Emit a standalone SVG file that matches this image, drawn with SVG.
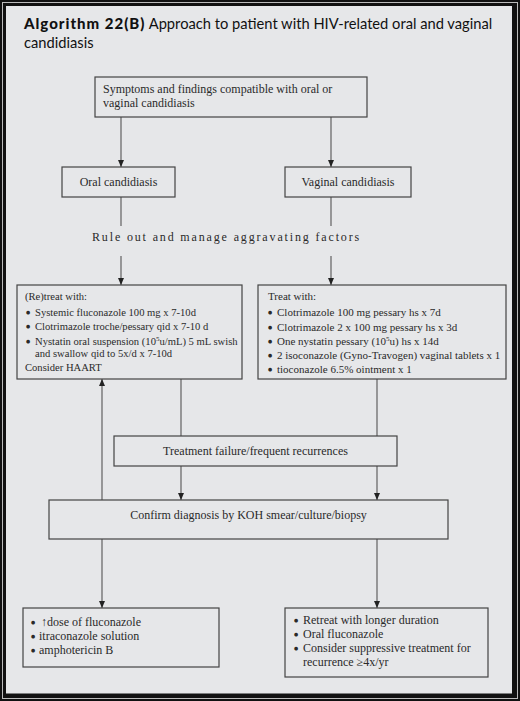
<svg xmlns="http://www.w3.org/2000/svg" width="520" height="701" viewBox="0 0 520 701">
<defs>
<marker id="ah" markerUnits="userSpaceOnUse" markerWidth="7" markerHeight="6" refX="7" refY="3" orient="auto" viewBox="0 0 7 6">
<path d="M0,0 L7,3 L0,6 Z" fill="#222"/>
</marker>
</defs>
<style>
.box{fill:#e6e7e9;stroke:#444;stroke-width:1.2}
.c{stroke:#555;stroke-width:1.1;fill:none}
text{font-family:"Liberation Serif","Times New Roman",serif;fill:#2a2a2a}
.t12{font-size:12px}
.t11{font-size:11px}
.t10{font-size:10.6px}
.b{font-size:8.5px}
.ttl{font-family:Lato,"Liberation Sans",sans-serif;font-size:14.7px;fill:#111}
</style>
<rect x="0" y="0" width="520" height="701" fill="#111"/>
<rect x="2.5" y="2.5" width="515" height="696" fill="none" stroke="#bbb" stroke-width="1"/>
<rect x="6" y="6" width="506" height="687.5" fill="#e6e7e9"/>

<g id="title">
<text class="ttl" x="24" y="29"><tspan font-weight="900" font-size="15" letter-spacing="1">Algorithm 22(B)</tspan> Approach to patient with HIV-related oral and vaginal</text>
<text class="ttl" x="24" y="48">candidiasis</text>
</g>

<g id="connectors">
<line class="c" marker-end="url(#ah)" x1="121" y1="117" x2="121" y2="167"/>
<line class="c" marker-end="url(#ah)" x1="331" y1="117" x2="331" y2="167"/>
<line class="c" x1="121" y1="197" x2="121" y2="226"/>
<line class="c" x1="331" y1="197" x2="331" y2="226"/>
<line class="c" marker-end="url(#ah)" x1="121" y1="256" x2="121" y2="285"/>
<line class="c" marker-end="url(#ah)" x1="331" y1="256" x2="331" y2="285"/>
<line class="c" x1="181" y1="379" x2="181" y2="436"/>
<line class="c" x1="377" y1="379" x2="377" y2="436"/>
<line class="c" marker-end="url(#ah)" x1="181" y1="466" x2="181" y2="500"/>
<line class="c" marker-end="url(#ah)" x1="377" y1="466" x2="377" y2="500"/>
<line class="c" marker-end="url(#ah)" x1="102" y1="500" x2="102" y2="379"/>
<line class="c" marker-end="url(#ah)" x1="102" y1="539" x2="102" y2="608"/>
<line class="c" marker-end="url(#ah)" x1="377" y1="539" x2="377" y2="608"/>
</g>

<g id="start">
<rect class="box" x="95" y="77" width="272" height="40"/>
<text class="t12" x="103" y="93">Symptoms and findings compatible with oral or</text>
<text class="t12" x="103" y="107">vaginal candidiasis</text>
</g>

<g id="oral">
<rect class="box" x="62" y="167" width="113" height="30"/>
<text class="t12" x="118.5" y="186" text-anchor="middle">Oral candidiasis</text>
</g>

<g id="vaginal">
<rect class="box" x="285" y="167" width="126" height="30"/>
<text class="t12" x="348" y="186" text-anchor="middle">Vaginal candidiasis</text>
</g>

<g id="ruleout">
<text class="t12" x="92" y="241" letter-spacing="1.85">Rule out and manage aggravating factors</text>
</g>

<g id="oraltreat">
<rect class="box" x="17" y="285" width="225" height="94"/>
<text class="t10" x="25" y="299.5">(Re)treat with:</text>
<text class="t10" x="25.5" y="315.5"><tspan class="b" dy="-1">●</tspan><tspan x="35" dy="1">Systemic fluconazole 100 mg x 7-10d</tspan></text>
<text class="t10" x="25.5" y="330"><tspan class="b" dy="-1">●</tspan><tspan x="35" dy="1">Clotrimazole troche/pessary qid x 7-10 d</tspan></text>
<text class="t10" x="25.5" y="344.5"><tspan class="b" dy="-1">●</tspan><tspan x="35" dy="1">Nystatin oral suspension (10</tspan><tspan font-size="7" dy="-4">5</tspan><tspan dy="4">u/mL) 5 mL swish</tspan></text>
<text class="t10" x="35" y="357">and swallow qid to 5x/d x 7-10d</text>
<text class="t10" x="25" y="371">Consider HAART</text>
</g>

<g id="vagtreat">
<rect class="box" x="258" y="285" width="248" height="94"/>
<text class="t11" x="268" y="300">Treat with:</text>
<text class="t11" x="267.5" y="315.5"><tspan class="b" dy="-1">●</tspan><tspan x="277" dy="1">Clotrimazole 100 mg pessary hs x 7d</tspan></text>
<text class="t11" x="267.5" y="330.5"><tspan class="b" dy="-1">●</tspan><tspan x="277" dy="1">Clotrimazole 2 x 100 mg pessary hs x 3d</tspan></text>
<text class="t11" x="267.5" y="344.5"><tspan class="b" dy="-1">●</tspan><tspan x="277" dy="1">One nystatin pessary (10</tspan><tspan font-size="7" dy="-4">5</tspan><tspan dy="4">u) hs x 14d</tspan></text>
<text class="t11" x="267.5" y="358.5"><tspan class="b" dy="-1">●</tspan><tspan x="277" dy="1">2 isoconazole (Gyno-Travogen) vaginal tablets x 1</tspan></text>
<text class="t11" x="267.5" y="373"><tspan class="b" dy="-1">●</tspan><tspan x="277" dy="1">tioconazole 6.5% ointment x 1</tspan></text>
</g>

<g id="failure">
<rect class="box" x="114" y="436" width="283" height="30"/>
<text class="t12" x="255.5" y="455" text-anchor="middle">Treatment failure/frequent recurrences</text>
</g>

<g id="confirm">
<rect class="box" x="49" y="500" width="399" height="39"/>
<text class="t12" x="248.5" y="519" text-anchor="middle">Confirm diagnosis by KOH smear/culture/biopsy</text>
</g>

<g id="oralfail">
<rect class="box" x="23" y="608" width="196" height="59"/>
<text class="t12" x="30.5" y="626"><tspan class="b" dy="-1">●</tspan><tspan x="41" dy="1">↑dose of fluconazole</tspan></text>
<text class="t12" x="30.5" y="640"><tspan class="b" dy="-1">●</tspan><tspan x="39" dy="1">itraconazole solution</tspan></text>
<text class="t12" x="30.5" y="654"><tspan class="b" dy="-1">●</tspan><tspan x="39" dy="1">amphotericin B</tspan></text>
</g>

<g id="vagfail">
<rect class="box" x="285" y="608" width="203" height="69"/>
<text class="t12" x="293.5" y="624"><tspan class="b" dy="-1">●</tspan><tspan x="303" dy="1">Retreat with longer duration</tspan></text>
<text class="t12" x="293.5" y="637.5"><tspan class="b" dy="-1">●</tspan><tspan x="303" dy="1">Oral fluconazole</tspan></text>
<text class="t12" x="293.5" y="652"><tspan class="b" dy="-1">●</tspan><tspan x="303" dy="1">Consider suppressive treatment for</tspan></text>
<text class="t12" x="303" y="666">recurrence ≥4x/yr</text>
</g>
</svg>
